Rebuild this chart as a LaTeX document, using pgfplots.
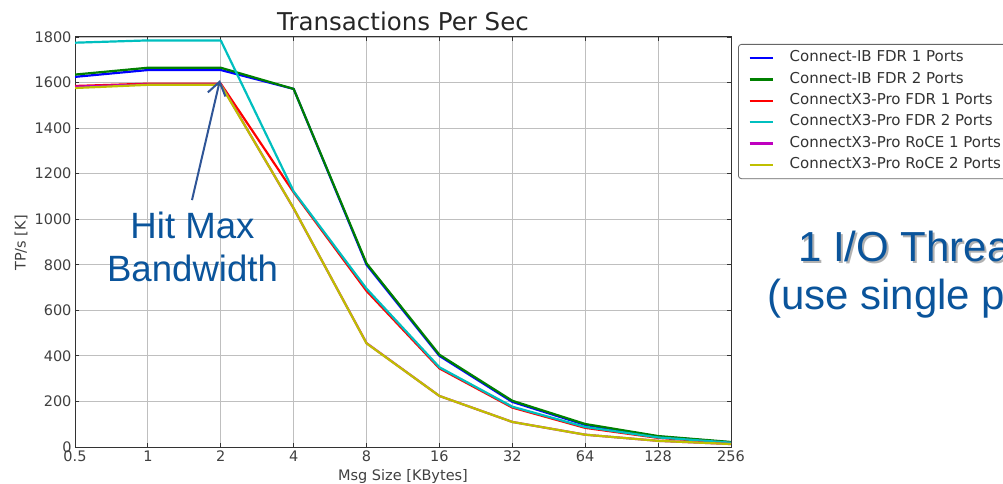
\documentclass[border=0pt]{standalone}
\usepackage{pgfplots}
\pgfplotsset{compat=1.18}
\usepackage{fontspec}
\setmainfont{DejaVu Sans}
\newfontfamily\arialfont{Liberation Sans}
\usetikzlibrary{arrows.meta}
\definecolor{mplb}{rgb}{0,0,1}
\definecolor{mplg}{rgb}{0,0.5,0}
\definecolor{mplr}{rgb}{1,0,0}
\definecolor{mplc}{rgb}{0,0.75,0.75}
\definecolor{mplm}{rgb}{0.75,0,0.75}
\definecolor{mply}{rgb}{0.75,0.75,0}
\definecolor{txtblue}{RGB}{10,84,155}
\definecolor{arrowblue}{RGB}{47,85,151}
\newcommand{\lblfont}{\fontsize{14.5bp}{17bp}\selectfont}
\begin{document}
\begin{tikzpicture}
\path[use as bounding box] (0,0) rectangle (1003bp,484bp);
\begin{axis}[
  at={(75bp,37bp)}, anchor=south west,
  scale only axis, width=656bp, height=410bp,
  xmin=0, xmax=9, ymin=0, ymax=1800,
  xtick={0,...,9}, xticklabels={0.5,1,2,4,8,16,32,64,128,256},
  ytick={0,200,...,1800},
  grid=major, grid style={black!25, line width=0.9bp},
  axis line style={black!80, line width=1bp},
  tick style={black!80, line width=0.8bp},
  tick align=inside, major tick length=4bp,
  tick label style={font=\lblfont, text=black!75},
  /pgf/number format/assume math mode=true,
  /pgf/number format/1000 sep={},
  title={Transactions Per Sec},
  title style={font=\fontsize{24.5bp}{28bp}\selectfont, text=black!85, at={(0.5,1)}, anchor=base, yshift=1bp},
  xlabel={Msg Size [KBytes]},
  xlabel style={font=\lblfont, text=black!75, at={(axis description cs:0.5,0)}, anchor=base, yshift=-33bp},
  ylabel={TP/s [K]},
  ylabel style={font=\lblfont, text=black!75, at={(axis description cs:-0.0823,0.4976)}, anchor=center},
  legend style={at={(1.0107,0.983)}, anchor=north west, draw=black!60, line width=0.8bp,
    rounded corners=3bp, fill=white,
    font=\fontsize{15bp}{17bp}\selectfont, text=black!80, inner xsep=10bp, inner ysep=7bp, row sep=7.5bp,
    nodes={inner sep=0pt, text height=10.6bp, text depth=3.2bp},
    cells={anchor=west},
    /tikz/every odd column/.append style={column sep=16bp}},
  legend image code/.code={\draw[#1, line width=2.2bp, sharp corners] (0bp,0bp) -- (23bp,0bp);},
  every axis plot/.append style={line width=2.2bp, line join=round, mark=none},
]
\addplot[mplb] coordinates {(0,1625) (1,1655) (2,1655) (3,1572) (4,800) (5,400) (6,198) (7,97) (8,46) (9,20)};
\addlegendentry{Connect-IB FDR 1 Ports}
\addplot[mplg] coordinates {(0,1635) (1,1665) (2,1665) (3,1572) (4,806) (5,405) (6,203) (7,101) (8,48) (9,22)};
\addlegendentry{Connect-IB FDR 2 Ports}
\addplot[mplr] coordinates {(0,1585) (1,1595) (2,1595) (3,1118) (4,685) (5,345) (6,173) (7,84) (8,40) (9,18)};
\addlegendentry{ConnectX3-Pro FDR 1 Ports}
\addplot[mplc] coordinates {(0,1775) (1,1785) (2,1785) (3,1122) (4,695) (5,350) (6,177) (7,88) (8,42) (9,19)};
\addlegendentry{ConnectX3-Pro FDR 2 Ports}
\addplot[mplm] coordinates {(0,1582) (1,1592) (2,1592) (3,1047) (4,456) (5,224) (6,110) (7,54) (8,27) (9,13)};
\addlegendentry{ConnectX3-Pro RoCE 1 Ports}
\addplot[mply] coordinates {(0,1576) (1,1590) (2,1590) (3,1048) (4,455) (5,224) (6,110) (7,54) (8,27) (9,13)};
\addlegendentry{ConnectX3-Pro RoCE 2 Ports}
\draw[arrowblue, line width=2bp, -{Straight Barb[length=13bp,width=18bp]}] (axis cs:1.605,1084) -- (axis cs:1.989,1611);
\end{axis}
\begin{scope}[every node/.style={inner sep=0pt, font=\arialfont\fontsize{36.6bp}{40bp}\selectfont, text=txtblue}]
\node[anchor=base] at (192.5bp,245bp) {Hit Max};
\node[anchor=base] at (192.5bp,202bp) {Bandwidth};
\end{scope}
\begin{scope}[every node/.style={inner sep=0pt, anchor=base west, font=\arialfont\fontsize{42bp}{46bp}\selectfont}]
\node[text=black, opacity=0.3] at (800bp,220bp) {1 I/O Thread};
\node[text=txtblue] at (798bp,222bp) {1 I/O Thread};
\node[text=txtblue] at (767bp,174bp) {(use single port)};
\end{scope}
\end{tikzpicture}
\end{document}
